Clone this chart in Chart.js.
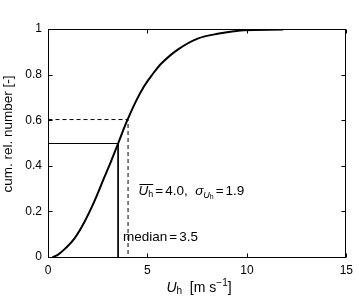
<!DOCTYPE html>
<html>
<head>
<meta charset="utf-8">
<script src="https://cdn.jsdelivr.net/npm/chart.js@4.4.0/dist/chart.umd.min.js"></script>
<style>
  body { margin: 0; background: #fff; }
  #wrap { width: 359px; height: 308px; }
</style>
</head>
<body>
<div id="wrap"><canvas id="myChart" width="359" height="308"></canvas></div>
<script>
// cumulative distribution of wind speed U_h
var windSpeed = [0.2, 0.5, 0.85, 1.3, 1.8, 2.3, 2.8, 3.15, 3.5, 3.9, 4.4, 4.8, 5.2, 5.7, 6.5, 7.5, 8.5, 9.8, 11.8];
var cumNumber = [0, 0.014, 0.04, 0.083, 0.155, 0.245, 0.35, 0.423, 0.5, 0.589, 0.686, 0.75, 0.8, 0.853, 0.912, 0.96, 0.981, 0.997, 1.0];

// statistics
var medianU = 3.5;
var medianCum = 0.5;
var meanU = 4.0;
var meanCum = 0.605;
var sigmaU = 1.9;

var xTicks = [0, 5, 10, 15];
var yTicks = [0, 0.2, 0.4, 0.6, 0.8, 1];
var yTickLabels = ['0', '0.2', '0.4', '0.6', '0.8', '1'];

var FONT = '"Liberation Sans", Arial, Helvetica, sans-serif';

var curve = windSpeed.map(function(v, i){ return {x: v, y: cumNumber[i]}; });
var medianLine = [{x: 0, y: medianCum}, {x: medianU, y: medianCum}, {x: medianU, y: 0}];
var meanLine = [{x: 0, y: meanCum}, {x: meanU, y: meanCum}, {x: meanU, y: 0}];

// draw a row of text pieces, returns end x
function drawRuns(ctx, x, y, runs) {
    runs.forEach(function(r){
        ctx.font = r.font;
        x += (r.pre || 0);
        r.x0 = x;
        ctx.fillText(r.t, x, y + (r.dy || 0));
        x += ctx.measureText(r.t).width + (r.post || 0);
        r.x1 = x - (r.post || 0);
    });
    return x;
}
function runsWidth(ctx, runs) {
    var w = 0;
    runs.forEach(function(r){
        ctx.font = r.font;
        w += (r.pre || 0) + ctx.measureText(r.t).width + (r.post || 0);
    });
    return w;
}

// half pixel shift so the thin guide lines come out crisp
var crispPlugin = {
    id: 'crispPlugin',
    beforeDatasetsDraw: function(chart) {
        chart.ctx.save();
        chart.ctx.translate(0.5, 0.5);
    },
    afterDatasetsDraw: function(chart) {
        chart.ctx.restore();
    }
};

var framePlugin = {
    id: 'framePlugin',
    afterDraw: function(chart) {
        var ctx = chart.ctx, a = chart.chartArea;
        var xs = chart.scales.x, ys = chart.scales.y;
        var L = Math.round(a.left) + 0.5, R = Math.round(a.right) - 0.5;
        var T = Math.round(a.top) + 0.5, B = Math.round(a.bottom) + 0.5;
        ctx.save();
        ctx.strokeStyle = '#000';
        ctx.lineWidth = 1;
        ctx.strokeRect(L, T, R - L, B - T);

        // inward ticks on all four sides
        ctx.beginPath();
        xTicks.forEach(function(v){
            var px = Math.round(xs.getPixelForValue(v)) + 0.5;
            ctx.moveTo(px, B); ctx.lineTo(px, B - 4);
            ctx.moveTo(px, T); ctx.lineTo(px, T + 4);
        });
        yTicks.forEach(function(v){
            var py = Math.round(ys.getPixelForValue(v)) + 0.5;
            ctx.moveTo(L, py); ctx.lineTo(L + 4, py);
            ctx.moveTo(R, py); ctx.lineTo(R - 4, py);
        });
        ctx.stroke();

        ctx.fillStyle = '#000';
        ctx.textBaseline = 'alphabetic';
        ctx.textAlign = 'left';

        // mean / sigma note
        var mx = xs.getPixelForValue(4.55);
        var my = 195;
        var meanRuns = [
            {t: 'U', font: 'italic 13.5px ' + FONT},
            {t: 'h', font: '9px ' + FONT, dy: 2},
            {t: '=', font: '13.5px ' + FONT, pre: 2, post: 2},
            {t: meanU.toFixed(1) + ',  ', font: '13.5px ' + FONT},
            {t: 'σ', font: 'italic 13.5px ' + FONT},
            {t: 'U', font: 'italic 9px ' + FONT, dy: 3},
            {t: 'h', font: '7px ' + FONT, dy: 4},
            {t: '=', font: '13.5px ' + FONT, pre: 2, post: 2},
            {t: sigmaU.toFixed(1), font: '13.5px ' + FONT}
        ];
        drawRuns(ctx, mx, my, meanRuns);
        ctx.beginPath();
        ctx.moveTo(meanRuns[0].x0 + 1, my - 10.5);
        ctx.lineTo(meanRuns[1].x1, my - 10.5);
        ctx.stroke();

        // median note
        var dx = 123;
        var dy = 241;
        drawRuns(ctx, dx, dy, [
            {t: 'median', font: '13.5px ' + FONT},
            {t: '=', font: '13.5px ' + FONT, pre: 2, post: 2},
            {t: medianU.toFixed(1), font: '13.5px ' + FONT}
        ]);

        // x axis title
        var xt = [
            {t: 'U', font: 'italic 14px ' + FONT},
            {t: 'h', font: '10px ' + FONT, dy: 2},
            {t: '  [m s', font: '14px ' + FONT},
            {t: '\u22121', font: '10px ' + FONT, dy: -6},
            {t: ']', font: '14px ' + FONT}
        ];
        var w = runsWidth(ctx, xt);
        drawRuns(ctx, 199 - w / 2, 292, xt);

        // y axis title
        ctx.translate(12, 134);
        ctx.rotate(-Math.PI / 2);
        ctx.textAlign = 'center';
        ctx.font = '13.5px ' + FONT;
        ctx.fillText('cum. rel. number [-]', 0, 0);
        ctx.restore();
    }
};

var ctx = document.getElementById('myChart');

var myChart = new Chart(ctx, {
    type: 'scatter',
    data: {
        datasets: [{
            data: curve,
            showLine: true,
            borderColor: '#000',
            borderWidth: 2,
            pointRadius: 0,
            tension: 0.35
        }, {
            data: medianLine,
            showLine: true,
            borderColor: '#000',
            borderWidth: 1,
            pointRadius: 0
        }, {
            data: meanLine,
            showLine: true,
            borderColor: '#000',
            borderWidth: 1,
            borderDash: [4, 3],
            pointRadius: 0
        }]
    },
    options: {
        responsive: false,
        animation: false,
        layout: { padding: { top: 29, right: 6, left: 0, bottom: 0 } },
        plugins: { legend: { display: false }, tooltip: { enabled: false } },
        scales: {
            x: {
                type: 'linear', min: 0, max: 15,
                grid: { display: false, drawTicks: false },
                border: { display: false },
                afterBuildTicks: function(s){ s.ticks = xTicks.map(function(v){ return {value: v}; }); },
                ticks: { color: '#000', font: { family: FONT, size: 12 }, padding: 6, maxRotation: 0 },
                afterFit: function(s){ s.height = 51; }
            },
            y: {
                type: 'linear', min: 0, max: 1,
                grid: { display: false, drawTicks: false },
                border: { display: false },
                afterBuildTicks: function(s){ s.ticks = yTicks.map(function(v){ return {value: v}; }); },
                ticks: {
                    color: '#000', font: { family: FONT, size: 12 }, padding: 6,
                    callback: function(v){ return yTickLabels[yTicks.indexOf(v)]; }
                },
                afterFit: function(s){ s.width = 48; }
            }
        }
    },
    plugins: [crispPlugin, framePlugin]
});
</script>
</body>
</html>
